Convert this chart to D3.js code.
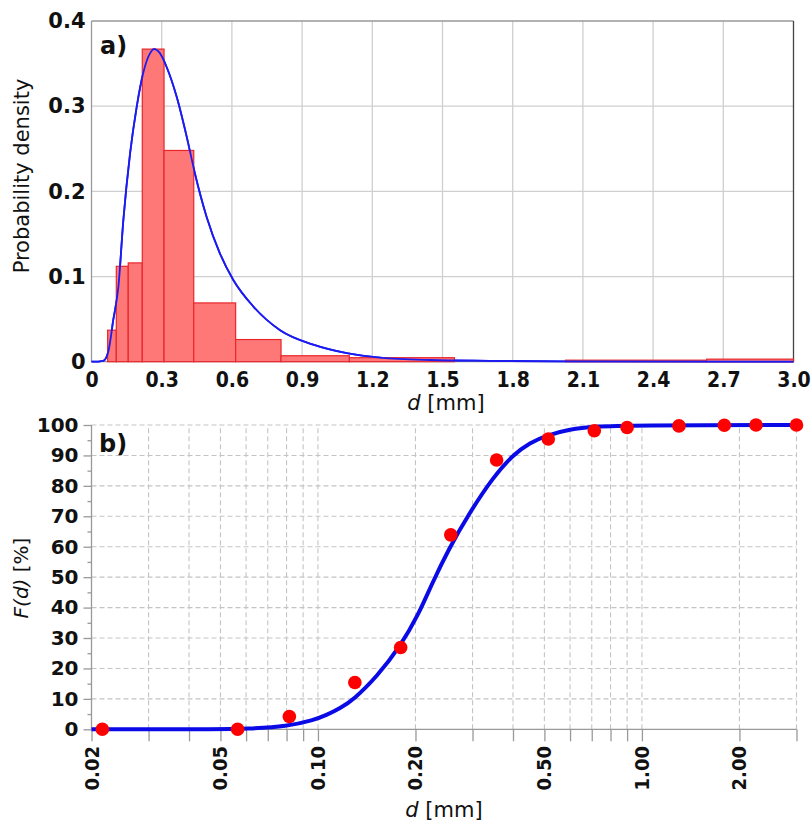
<!DOCTYPE html>
<meta charset="utf-8">
<html>
  <head>
    <script src="https://d3js.org/d3.v7.min.js"></script>
    <style>
      body { margin: 0; background: #fff; }
      text { font-family: "DejaVu Sans", sans-serif; fill: #111; }
    </style>
  </head>
  <body>
    <div id="chart"></div>

    <script type="text/javascript">
      // ---- panel a) histogram of d [mm] ----
      var binStart = [0.069, 0.106, 0.157, 0.217, 0.310, 0.437, 0.616, 0.810, 1.102, 2.026, 2.629],
          binEnd   = [0.106, 0.157, 0.217, 0.310, 0.437, 0.616, 0.810, 1.102, 1.551, 2.629, 3.0],
          density  = [0.037, 0.112, 0.116, 0.367, 0.248, 0.069, 0.026, 0.007, 0.0047, 0.0018, 0.003];

      // fitted density curve
      var pdfD = [0, 0.008, 0.050, 0.072, 0.093, 0.115, 0.136, 0.165, 0.193, 0.221, 0.250, 0.267, 0.293, 0.321,
                  0.364, 0.407, 0.442, 0.492, 0.549, 0.606, 0.691, 0.806, 0.948, 1.091, 1.233, 1.447, 1.7, 2.0, 3.0],
          pdfP = [0, 0, 0.001, 0.012, 0.049, 0.088, 0.166, 0.245, 0.299, 0.339, 0.362, 0.367, 0.362, 0.346,
                  0.311, 0.264, 0.221, 0.170, 0.127, 0.096, 0.065, 0.037, 0.020, 0.010, 0.0047, 0.002, 0.001, 0.0004, 0];

      var topXTicks = [0, 0.3, 0.6, 0.9, 1.2, 1.5, 1.8, 2.1, 2.4, 2.7, 3.0],
          topXLabels = ["0", "0.3", "0.6", "0.9", "1.2", "1.5", "1.8", "2.1", "2.4", "2.7", "3.0"],
          topYTicks = [0, 0.1, 0.2, 0.3, 0.4],
          topYLabels = ["0", "0.1", "0.2", "0.3", "0.4"];

      // ---- panel b) cumulative distribution ----
      var sieveD = [0.0216, 0.0565, 0.0816, 0.130, 0.180, 0.257, 0.356, 0.514, 0.713, 0.900, 1.301, 1.796, 2.25, 3.0],
          passF  = [0, 0, 4.2, 15.4, 26.9, 63.9, 88.5, 95.4, 98.1, 99.2, 99.7, 99.9, 100, 100];

      var cdfD = [0.02, 0.043, 0.062, 0.080, 0.097, 0.106, 0.117, 0.129, 0.152, 0.179, 0.205, 0.224, 0.254,
                  0.293, 0.348, 0.401, 0.451, 0.508, 0.600, 0.708, 0.918, 3.0],
          cdfF = [0, 0, 0.2, 0.9, 3.0, 4.6, 6.9, 9.8, 17.3, 27.0, 38.0, 47.5, 59.5,
                  71.0, 83.0, 90.3, 94.2, 96.6, 98.6, 99.5, 99.9, 100];

      var botXLabelVals = [0.02, 0.05, 0.1, 0.2, 0.5, 1, 2],
          botXLabels = ["0.02", "0.05", "0.10", "0.20", "0.50", "1.00", "2.00"],
          botXGrid = [0.02, 0.03, 0.04, 0.05, 0.06, 0.07, 0.08, 0.09, 0.1, 0.2, 0.3, 0.4, 0.5, 0.6, 0.7, 0.8, 0.9, 1, 2, 3],
          botYTicks = [0, 10, 20, 30, 40, 50, 60, 70, 80, 90, 100],
          botYMinor = [5, 15, 25, 35, 45, 55, 65, 75, 85, 95];

      var W = 811, H = 823;

      var svg = d3.select("#chart").append("svg")
          .attr("width", W)
          .attr("height", H);

      // ================= panel a =================
      var xa = d3.scaleLinear().domain([0, 3]).range([91.5, 793.5]),
          ya = d3.scaleLinear().domain([0, 0.4]).range([361.7, 21]);

      var ga = svg.append("g");

      ga.selectAll(".vgrid").data(topXTicks.slice(1, -1))
          .enter().append("line")
          .attr("x1", function(d){ return xa(d); }).attr("x2", function(d){ return xa(d); })
          .attr("y1", ya(0)).attr("y2", ya(0.4))
          .style("stroke", "#cfcfcf").style("stroke-width", "1.3px");

      ga.selectAll(".hgrid").data(topYTicks.slice(1, -1))
          .enter().append("line")
          .attr("x1", xa(0)).attr("x2", xa(3))
          .attr("y1", function(d){ return ya(d); }).attr("y2", function(d){ return ya(d); })
          .style("stroke", "#cfcfcf").style("stroke-width", "1.3px");

      // frame
      ga.append("line").attr("x1", xa(0)).attr("x2", xa(3)).attr("y1", ya(0.4)).attr("y2", ya(0.4))
          .style("stroke", "#999").style("stroke-width", "1.3px");
      ga.append("line").attr("x1", xa(3)).attr("x2", xa(3)).attr("y1", ya(0.4)).attr("y2", ya(0))
          .style("stroke", "#444").style("stroke-width", "1.3px");
      ga.append("line").attr("x1", xa(0)).attr("x2", xa(0)).attr("y1", ya(0.4)).attr("y2", ya(0))
          .style("stroke", "#999").style("stroke-width", "1.3px");
      ga.append("line").attr("x1", xa(0)).attr("x2", xa(3)).attr("y1", ya(0)).attr("y2", ya(0))
          .style("stroke", "#999").style("stroke-width", "1.3px");

      var bins = binStart.map(function(s, i){ return { x0: s, x1: binEnd[i], v: density[i] }; });

      var pdfLine = d3.line()
          .x(function(d){ return xa(d[0]); })
          .y(function(d){ return ya(d[1]); })
          .curve(d3.curveMonotoneX);

      ga.append("path")
          .datum(pdfD.map(function(d, i){ return [d, pdfP[i]]; }))
          .attr("d", pdfLine)
          .style("fill", "none")
          .style("stroke", "#1c1cf0")
          .style("stroke-width", "1.8px");

      ga.selectAll(".bar").data(bins)
          .enter().append("rect")
          .attr("x", function(d){ return xa(d.x0); })
          .attr("width", function(d){ return xa(d.x1) - xa(d.x0); })
          .attr("y", function(d){ return ya(d.v); })
          .attr("height", function(d){ return ya(0) - ya(d.v); })
          .style("fill", "#ff7878")
          .style("stroke", "#e8272b")
          .style("stroke-width", "1.2px");

      // curve over the bars where it is visible above them
      ga.append("path")
          .datum(pdfD.map(function(d, i){ return [d, pdfP[i]]; }))
          .attr("d", pdfLine)
          .style("fill", "none")
          .style("stroke", "#1c1cf0")
          .style("stroke-width", "1.8px");

      ga.append("g")
          .attr("transform", "translate(0," + ya(0) + ")")
          .call(d3.axisBottom(xa).tickValues(topXTicks).tickSize(0).tickPadding(10)
                .tickFormat(function(d, i){ return topXLabels[i]; }))
          .call(function(g){ g.select(".domain").remove(); })
          .selectAll("text")
          .style("font-family", "DejaVu Sans Condensed")
          .style("font-weight", "bold").style("font-size", "21px").style("fill", "#111");

      ga.append("g")
          .attr("transform", "translate(" + xa(0) + ",0)")
          .call(d3.axisLeft(ya).tickValues(topYTicks).tickSize(0).tickPadding(6)
                .tickFormat(function(d, i){ return topYLabels[i]; }))
          .call(function(g){ g.select(".domain").remove(); })
          .selectAll("text")
          .style("font-family", "DejaVu Sans")
          .style("font-weight", "bold").style("font-size", "21px").style("fill", "#111");

      ga.append("text")
          .attr("x", 100).attr("y", 54)
          .style("font-weight", "bold").style("font-size", "24px")
          .text("a)");

      ga.append("text")
          .attr("transform", "translate(29,176) rotate(-90)")
          .style("text-anchor", "middle").style("font-size", "21px")
          .text("Probability density");

      var xlabA = ga.append("text")
          .attr("x", 446).attr("y", 410)
          .style("text-anchor", "middle").style("font-size", "21px");
      xlabA.append("tspan").style("font-style", "italic").text("d");
      xlabA.append("tspan").text(" [mm]");

      // ================= panel b =================
      var xb = d3.scaleLog().domain([0.02, 3]).range([91.5, 796.5]),
          yb = d3.scaleLinear().domain([0, 100]).range([729.3, 425]);

      var gb = svg.append("g");

      gb.selectAll(".vgridb").data(botXGrid.slice(1))
          .enter().append("line")
          .attr("x1", function(d){ return xb(d); }).attr("x2", function(d){ return xb(d); })
          .attr("y1", yb(0)).attr("y2", yb(100))
          .style("stroke", "#c4c4c4").style("stroke-width", "1.1px")
          .style("stroke-dasharray", "5,3");

      gb.selectAll(".hgridb").data(botYTicks.slice(1))
          .enter().append("line")
          .attr("x1", xb(0.02)).attr("x2", xb(3))
          .attr("y1", function(d){ return yb(d); }).attr("y2", function(d){ return yb(d); })
          .style("stroke", "#c4c4c4").style("stroke-width", "1.1px")
          .style("stroke-dasharray", "5,3");

      // x axis with ticks at every grid value
      gb.append("g")
          .attr("transform", "translate(0," + yb(0) + ")")
          .call(d3.axisBottom(xb).tickValues(botXGrid).tickSize(12).tickFormat(""))
          .call(function(g){
            g.select(".domain").attr("d", "M" + xb(0.02) + ",0H" + xb(3));
            g.selectAll("line, .domain").style("stroke", "#999").style("stroke-width", "1.3px");
          });

      gb.selectAll(".xlabb").data(botXLabelVals)
          .enter().append("text")
          .attr("transform", function(d){ return "translate(" + (xb(d) + 7) + ",746) rotate(-90)"; })
          .style("text-anchor", "end")
          .style("font-family", "DejaVu Sans Condensed")
          .style("font-weight", "bold").style("font-size", "20px")
          .text(function(d, i){ return botXLabels[i]; });

      // y axis: major and minor ticks
      gb.append("g")
          .attr("transform", "translate(" + xb(0.02) + ",0)")
          .call(d3.axisLeft(yb).tickValues(botYTicks).tickSize(8).tickPadding(5)
                .tickFormat(function(d){ return d; }))
          .call(function(g){
            g.select(".domain").attr("d", "M0," + yb(0) + "V" + yb(100));
            g.selectAll("line, .domain").style("stroke", "#999").style("stroke-width", "1.3px");
            g.selectAll("text").style("font-family", "DejaVu Sans")
              .style("font-weight", "bold").style("font-size", "20px").style("fill", "#111");
          });

      gb.append("g")
          .attr("transform", "translate(" + xb(0.02) + ",0)")
          .call(d3.axisLeft(yb).tickValues(botYMinor).tickSize(4).tickFormat(""))
          .call(function(g){
            g.select(".domain").remove();
            g.selectAll("line").style("stroke", "#999").style("stroke-width", "1.3px");
          });

      var cdfLine = d3.line()
          .x(function(d){ return xb(d[0]); })
          .y(function(d){ return yb(d[1]); })
          .curve(d3.curveBasis);

      gb.append("path")
          .datum(cdfD.map(function(d, i){ return [d, cdfF[i]]; }))
          .attr("d", cdfLine)
          .style("fill", "none")
          .style("stroke", "#0a0ae6")
          .style("stroke-width", "4px");

      gb.selectAll(".pt").data(sieveD)
          .enter().append("circle")
          .attr("cx", function(d){ return xb(d); })
          .attr("cy", function(d, i){ return yb(passF[i]); })
          .attr("r", 6.8)
          .style("fill", "#ff0000");

      gb.append("text")
          .attr("x", 99).attr("y", 452)
          .style("font-weight", "bold").style("font-size", "24px")
          .text("b)");

      var ylabB = gb.append("text")
          .attr("transform", "translate(28,578) rotate(-90)")
          .style("text-anchor", "middle").style("font-size", "20px");
      ylabB.append("tspan").style("font-style", "italic").text("F(d)");
      ylabB.append("tspan").text(" [%]");

      var xlabB = gb.append("text")
          .attr("x", 444).attr("y", 817)
          .style("text-anchor", "middle").style("font-size", "21px");
      xlabB.append("tspan").style("font-style", "italic").text("d");
      xlabB.append("tspan").text(" [mm]");
    </script>
  </body>
</html>
